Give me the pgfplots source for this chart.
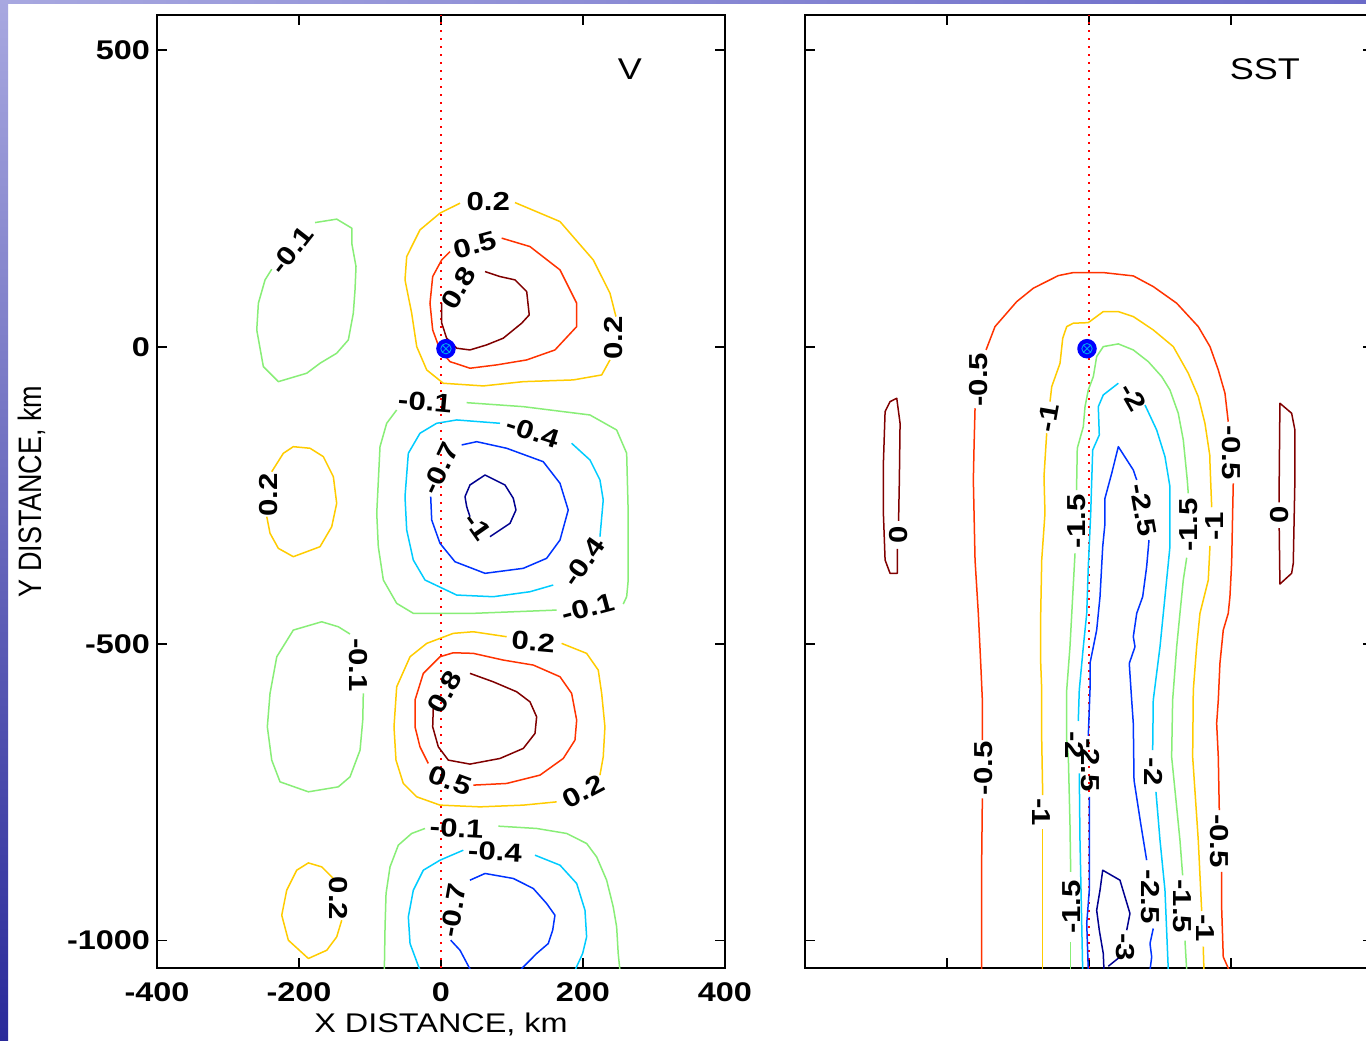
\documentclass[border=0pt]{standalone}
\usepackage{graphicx}
\usepackage{pgfplots}
\pgfplotsset{compat=1.18}
\usepackage{fontspec}
\setmainfont{Liberation Sans}[FakeStretch=1.2]
\newfontfamily\plainsans{Liberation Sans}
\usetikzlibrary{plotmarks}

% contour level colours
\definecolor{cDR}{HTML}{800000}
\definecolor{cR}{HTML}{FF3300}
\definecolor{cY}{HTML}{FFCC00}
\definecolor{cG}{HTML}{88EE77}
\definecolor{cC}{HTML}{00CCFF}
\definecolor{cB}{HTML}{0033FF}
\definecolor{cDB}{HTML}{000090}
\definecolor{slideA}{HTML}{A8A8E0}
\definecolor{slideB}{HTML}{2A2A9A}
\definecolor{slideC}{HTML}{6A6AC8}

% contour labels: slanted ones in the wide face, upright ones stretched across
\newcommand{\clab}[1]{{\bfseries\fontsize{13}{13}\selectfont #1}}
\newcommand{\vlab}[1]{\scalebox{1}[1.2]{\plainsans\bfseries\fontsize{13}{13}\selectfont #1}}

\tikzset{lab/.style={inner sep=0pt}}

\pgfplotsset{
  panel/.style={
    scale only axis, width=284pt, height=476.5pt,
    anchor=south west,
    xmin=-400, xmax=400, ymin=-1046, ymax=559,
    axis line style={line width=0.9pt},
    every tick/.style={black, line width=0.7pt},
    major tick length=5pt,
    xtick={-400,-200,0,200,400},
    ytick={-1000,-500,0,500},
    tick label style={font=\bfseries\fontsize{13.5}{14}\selectfont},
    xticklabel style={yshift=-4pt},
    label style={font=\fontsize{13.5}{14}\selectfont},
    every axis plot/.append style={line width=0.75pt, line join=round},
  },
  centreline/.style={color=red, line width=1pt, dash pattern=on 1pt off 3pt},
}

\begin{document}
\begin{tikzpicture}
\useasboundingbox (0,0) rectangle (683pt,520pt);
\clip (0,0) rectangle (683pt,520pt);
\fill[white] (0,0) rectangle (683pt,520pt);
\shade[top color=slideA, bottom color=slideB] (0,0) rectangle (4pt,520pt);
\shade[left color=slideA, right color=slideC] (0,518pt) rectangle (683pt,520pt);

% ---------------- meridional velocity ----------------
\begin{axis}[panel, at={(78.5pt,36pt)},
  xticklabels={-400,-200,0,200,400},
  yticklabels={-1000,-500,0,500},
  xlabel={X DISTANCE, km},
  ylabel={\scalebox{1}[1.2]{\plainsans Y DISTANCE, km}},
  xlabel style={at={(axis description cs:0.5,0)}, anchor=center, yshift=-28pt},
  ylabel style={at={(axis description cs:0,0.5)}, anchor=center, yshift=62.5pt},
]
\addplot[centreline] coordinates {(0,-1046) (0,559)};

% -0.1 cells
\addplot[cG] coordinates {(-177.4,209.4) (-146.9,215.2) (-125.7,200) (-125.7,174.7) (-119.7,135.3) (-121.1,96) (-123.5,56.8) (-130.5,11.8) (-146.9,-10.6) (-170.4,-27.5) (-189.1,-44.3) (-229.1,-58.5) (-250.2,-33.2) (-259.5,28.6) (-257.2,73.6) (-247.8,112.9) (-238.4,130.9)};
\addplot[cG] coordinates {(36.2,-93.9) (115.9,-100.6) (209.8,-114.6) (247.4,-139.9) (261.5,-179.1) (263.7,-280.2) (263.7,-392.6) (261.5,-420.7) (256.7,-433)};
\addplot[cG] coordinates {(162.9,-443.2) (45.5,-448.7) (-39,-448.7) (-62.4,-431.9) (-81.2,-392.6) (-88.3,-336.5) (-90.5,-280.2) (-85.9,-168) (-76.5,-128.6) (-62.4,-106.2)};
\addplot[cG] coordinates {(-109.4,-583.5) (-110.2,-628.5) (-114,-679.1) (-128.1,-724) (-144.6,-740.9) (-186.8,-749.3) (-226.7,-732.5) (-238.4,-695.9) (-244.6,-639.8) (-240.8,-583.5) (-231.3,-521.8) (-208,-476.9) (-168,-462.9) (-144.6,-471.3) (-128.1,-483.6)};
\addplot[cG] coordinates {(80.7,-807.1) (134.7,-811) (177,-819.4) (205.1,-836.3) (219.2,-858.8) (233.3,-898.1) (242.6,-943.1) (247.4,-976.8) (249.6,-1021.6) (252,-1050)};
\addplot[cG] coordinates {(-22.5,-811) (-41.3,-819.4) (-60.1,-839.1) (-71.8,-875.7) (-77.4,-920.5) (-78.8,-976.8) (-79.8,-1050)};

% 0.2
\addplot[cY] coordinates {(104.2,243.1) (167.6,211.1) (214.4,146.6) (238,90.5) (246.4,51.1)};
\addplot[cY] coordinates {(238,-21.9) (226.3,-47.2) (186.3,-55.6) (115.9,-58.5) (59.6,-65.7) (3.2,-61.2) (-20.1,-38.8) (-34.2,0.5) (-41.3,56.8) (-50.7,112.9) (-48.3,152.2) (-29.6,197.1) (-1.4,225.3) (26.8,242.1)};
\addplot[cY] coordinates {(-238.4,-210.1) (-222,-179.1) (-208,-168) (-184.4,-170.7) (-165.7,-184.8) (-151.6,-218.5) (-146.9,-263.4) (-153.9,-302.8) (-170.4,-336.5) (-208,-353.3) (-229.1,-339.2) (-240.8,-313.9) (-245.4,-285.9)};
\addplot[cY] coordinates {(169.9,-499.3) (205.1,-516.1) (221.5,-544.3) (226.3,-583.5) (230.9,-639.8) (228.5,-690.3) (223.9,-721.2)};
\addplot[cY] coordinates {(162.9,-766.2) (115.9,-771.7) (54.9,-774.6) (-1.4,-771.7) (-34.2,-757.7) (-53.1,-735.2) (-63.4,-695.9) (-66.2,-639.8) (-62.4,-572.4) (-43.6,-521.8) (-20.1,-499.3) (17.3,-482.4) (45.5,-479.7) (92.5,-488.1)};
\addplot[cY] coordinates {(-151.6,-895.2) (-168,-875.7) (-186.8,-869) (-203.2,-881.3) (-217.3,-915) (-224.3,-957.1) (-215,-999.2) (-186.8,-1030) (-160.9,-1016.1) (-146.9,-993.6) (-139.8,-965.5)};

% 0.5
\addplot[cR] coordinates {(85.5,183.2) (125.3,169) (167.6,129.7) (191.1,73.6) (191.1,34.2) (160.5,-5.1) (120.7,-21.9) (78.4,-30.3) (40.8,-35.9) (12.7,-24.8) (-1.4,-5.1) (-11.7,28.6) (-15.5,73.6) (-11.7,118.5) (1,146.6) (12.7,160.6)};
\addplot[cR] coordinates {(45.5,-738) (92.5,-735.2) (139.4,-721.2) (172.2,-693.1) (188.7,-662.2) (191.1,-628.5) (184,-583.5) (167.6,-555.5) (130,-535.8) (87.7,-527.4) (45.5,-516.1) (17.3,-515.1) (-1.4,-521.8) (-24.9,-549.8) (-36.6,-594.8) (-36.6,-639.8) (-29.6,-673.5) (-17.9,-701.5)};

% 0.8
\addplot[cDR] coordinates {(62,126.9) (83.1,118.5) (104.2,112.9) (120.7,93.2) (124.3,53.9) (113.6,39.9) (87.7,14.7) (64.3,3.4) (40.8,-5.1) (22.1,-2.2) (8,14.7) (1,39.9) (1,73.6)};
\addplot[cDR] coordinates {(40.8,-549.8) (73.6,-564) (106.6,-580.8) (125.3,-597.7) (134.7,-623) (132.4,-650.9) (115.9,-676.2) (83.1,-693.1) (40.8,-702.6) (10.3,-695.9) (-3.8,-673.5) (-11.7,-639.8) (-10.8,-606.1)};

% -0.4
\addplot[cC] coordinates {(184,-162.3) (209.8,-190.4) (223.9,-224.1) (228.5,-257.8) (223.9,-319.6)};
\addplot[cC] coordinates {(158.1,-401) (125.3,-412.3) (73.6,-420.7) (22.1,-417.9) (-22.5,-392.6) (-39,-358.9) (-48.3,-308.4) (-50.7,-252.2) (-46,-179.1) (-29.6,-145.4) (-6.1,-128.6) (22.1,-123) (83.1,-128.6)};
\addplot[cC] coordinates {(132.4,-856) (167.6,-872.8) (191.1,-903.7) (202.8,-948.7) (205.1,-993.6) (199.5,-1021.6) (188.7,-1050)};
\addplot[cC] coordinates {(31.4,-847.6) (-1.4,-864.4) (-24.9,-881.3) (-39,-915) (-46,-959.9) (-43.6,-1004.8) (-29.6,-1050)};

% -0.7
\addplot[cB] coordinates {(29.1,-165.1) (50.3,-159.6) (92.5,-170.7) (144,-193.3) (167.6,-229.7) (179.2,-274.7) (167.6,-325.2) (148.8,-356) (115.9,-372.9) (62,-381.3) (19.7,-361.8) (-1.4,-330.8) (-13.1,-291.5) (-14.5,-252.2)};
\addplot[cB] coordinates {(40.8,-898.1) (62,-886.8) (101.8,-895.2) (130,-912.1) (148.8,-937.4) (160.5,-957.1) (157.3,-982.4) (151.1,-1004.8) (134.7,-1021.6) (111.2,-1050)};
\addplot[cB] coordinates {(13.7,-999.2) (26.8,-1016.1) (41.8,-1050)};

% -1
\addplot[cDB] coordinates {(69,-319.6) (97.2,-297.1) (105.6,-274.7) (101.8,-254.9) (90.1,-232.5) (62,-215.7) (40.8,-232.5) (33.8,-252.2) (36.2,-269.1) (40.8,-285.9)};

% storm centre
\addplot[only marks, mark=*, mark size=4.5pt, mark options={fill=blue, draw=blue}] coordinates {(7,-3)};
\addplot[only marks, mark=otimes, mark size=2.6pt, mark options={draw=cyan, line width=0.4pt}] coordinates {(7,-3)};

% level labels
\node[lab, rotate=52] at (axis cs:-210,163) {\clab{-0.1}};
\node[lab] at (axis cs:66.6,244.8) {\clab{0.2}};
\node[lab] at (axis cs:242.6,14.7) {\vlab{\rotatebox{90}{0.2}}};
\node[lab, rotate=15] at (axis cs:47.9,171.9) {\clab{0.5}};
\node[lab, rotate=60] at (axis cs:24.4,98.9) {\clab{0.8}};
\node[lab, rotate=-5] at (axis cs:-22.5,-92.2) {\clab{-0.1}};
\node[lab, rotate=15] at (axis cs:207,-439.8) {\clab{-0.1}};
\node[lab, rotate=-18] at (axis cs:130,-142.7) {\clab{-0.4}};
\node[lab, rotate=55] at (axis cs:200.4,-361.8) {\clab{-0.4}};
\node[lab, rotate=65] at (axis cs:-1.4,-204.4) {\clab{-0.7}};
\node[lab, rotate=-55] at (axis cs:52.5,-302.8) {\clab{-1}};
\node[lab] at (axis cs:-243.2,-249.4) {\vlab{\rotatebox{90}{0.2}}};
\node[lab] at (axis cs:-116.4,-535.8) {\vlab{\rotatebox{-90}{-0.1}}};
\node[lab, rotate=-5] at (axis cs:130,-496.6) {\clab{0.2}};
\node[lab, rotate=28] at (axis cs:200.4,-749.3) {\clab{0.2}};
\node[lab, rotate=-20] at (axis cs:12.7,-729.6) {\clab{0.5}};
\node[lab, rotate=60] at (axis cs:5.6,-580.8) {\clab{0.8}};
\node[lab, rotate=-3] at (axis cs:22.1,-811) {\clab{-0.1}};
\node[lab, rotate=-3] at (axis cs:76,-850.4) {\clab{-0.4}};
\node[lab, rotate=80] at (axis cs:17.3,-948.7) {\clab{-0.7}};
\node[lab] at (axis cs:-144.6,-928.9) {\vlab{\rotatebox{-90}{0.2}}};

\node[font=\fontsize{15}{15}\selectfont] at (axis cs:266,467) {V};
\end{axis}

% ---------------- sea surface temperature ----------------
\begin{axis}[panel, at={(402.5pt,36pt)},
  xticklabels={}, yticklabels={},
]
\addplot[centreline] coordinates {(0,-1046) (0,559)};

% 0
\addplot[cDR] coordinates {(-269.9,-340) (-269.9,-381.3) (-280.2,-381.3) (-287.2,-358.9) (-289.6,-280.2) (-289.6,-196) (-287.2,-109) (-280.2,-92.2) (-270.8,-86.4) (-266.1,-128.6) (-267.1,-224.1) (-268.2,-293)};
\addplot[cDR] coordinates {(267.9,-305) (268.9,-399.3) (285.4,-381.3) (287.7,-364.5) (290,-224.1) (290,-139.9) (285.4,-111.7) (268.9,-94.9) (267.9,-224.1) (267.9,-262)};

% -0.5
\addplot[cR] coordinates {(-151.1,-1050) (-151.1,-858.8) (-150.2,-760.4)};
\addplot[cR] coordinates {(-150.2,-662.2) (-150.2,-594.8) (-152.5,-533) (-155.9,-448.7) (-160.5,-358.9) (-162.9,-224.1) (-161.9,-168) (-160.5,-103.3)};
\addplot[cR] coordinates {(-145,-5.1) (-132.4,34.2) (-101.8,76.3) (-78.4,98.9) (-43.2,120.1) (-22.1,125.2) (20.1,125.2) (62.4,119.6) (90.5,101.6) (123.5,73.6) (153.9,34.2) (170.4,0.5) (182.1,-38.8) (191.5,-78) (196.1,-125.9)};
\addplot[cR] coordinates {(203.2,-229.7) (202.3,-280.2) (200.9,-364.5) (198.5,-420.7) (196.1,-448.7) (189.1,-476.9) (184.4,-533) (182.1,-594.8) (179.8,-634.1) (182.1,-690.3) (183.5,-780.2)};
\addplot[cR] coordinates {(186.8,-884.1) (186.8,-943.1) (189.1,-1027.3) (197.5,-1050)};

% -1
\addplot[cY] coordinates {(-65.2,-1050) (-65.2,-858.8) (-65.2,-812)};
\addplot[cY] coordinates {(-65.2,-755) (-66.6,-662.2) (-66.6,-578) (-68,-533) (-68,-448.7) (-66.6,-358.9) (-62,-280.2) (-63.4,-218.5) (-59.6,-145.4)};
\addplot[cY] coordinates {(-54.9,-92.2) (-52.5,-66.9) (-40.8,-27.5) (-37,14.7) (-31.4,34.2) (-22.1,39.9) (-1,40.9) (20.1,59.5) (41.3,59.5) (62.4,51.1) (90.5,28.6) (118.7,0.5) (139.8,-44.3) (153.9,-83.7) (163.3,-128.6) (170.4,-184.8) (170.4,-196) (172.8,-270)};
\addplot[cY] coordinates {(170.4,-335) (168,-392.6) (156.3,-448.7) (151.6,-505) (146.9,-578) (146,-690.3) (153.9,-830.7) (158.7,-950)};
\addplot[cY] coordinates {(160.9,-1010) (161.9,-1050)};

% -1.5
\addplot[cG] coordinates {(-25.8,-1050) (-25.8,-1002)};
\addplot[cG] coordinates {(-25.8,-884.1) (-26.8,-802.6) (-29.1,-690.3) (-31.4,-662.2) (-31.4,-578) (-26.8,-505) (-23,-420.7) (-19.7,-347.6)};
\addplot[cG] coordinates {(-17.3,-241) (-17.3,-224.1) (-16.5,-170.7) (-8,-134.3) (-5.6,-100.6) (-1,-72.5) (6.1,-50) (10.8,-16.3) (20.1,0.5) (41.3,5.1) (62.4,-5.1) (83.5,-24.8) (102.4,-50) (114,-72.5) (125.7,-111.7) (132.8,-156.7) (138.4,-224.1) (139.8,-246.5)};
\addplot[cG] coordinates {(137.6,-355) (132.8,-392.6) (128.1,-448.7) (123.5,-505) (117.8,-594.8) (116.4,-690.3) (128.1,-830.7) (131.9,-890)};
\addplot[cG] coordinates {(135.2,-1000) (137.6,-1050)};

% -2
\addplot[cC] coordinates {(-8.9,-1050) (-12.7,-830.7) (-13.7,-718.3)};
\addplot[cC] coordinates {(-15.1,-630) (-13.7,-578) (-8,-505) (-3.2,-448.7) (-1,-370.2) (2.4,-280.2) (5.2,-173.6) (14.5,-148.3) (13.1,-100.6) (20.1,-80.9) (41.3,-61.2)};
\addplot[cC] coordinates {(78.8,-97.7) (95.3,-139.9) (107,-184.8) (114,-235.4) (114,-336.5) (107,-420.7) (100,-505) (90.5,-594.8) (89.7,-679.1)};
\addplot[cC] coordinates {(94.3,-749.3) (100,-830.7) (107,-915) (111.7,-1050)};

% -2.5
\addplot[cB] coordinates {(-1,-1050) (-3.2,-971.1) (0.4,-915) (0.4,-757.7)};
\addplot[cB] coordinates {(-1,-655) (1.4,-578) (1.4,-533) (10.8,-476.9) (15.5,-420.7) (19.3,-336.5) (22.5,-297.1) (22.5,-254.9) (32,-212.8) (41.3,-168) (62.4,-207.3) (67.2,-224.1)};
\addplot[cB] coordinates {(84.5,-325.2) (81.2,-370.2) (75.6,-420.7) (67.2,-448.7) (62.4,-488.1) (64.8,-505) (56.7,-533) (60.1,-594.8) (62.4,-634.1) (63.4,-729.6) (72.8,-802.6) (81.2,-864.4)};
\addplot[cB] coordinates {(90.5,-979.5) (85.9,-1004.8) (88.3,-1027.3) (85.9,-1050)};

% -3
\addplot[cDB] coordinates {(21.1,-1050) (20.1,-1021.6) (14.5,-982.4) (10.8,-948.7) (15.5,-915) (19.3,-881.3) (43.6,-898.1) (57.7,-954.2) (53.1,-982.4)};
\addplot[cDB] coordinates {(43.6,-1027.3) (27.2,-1043)};

% storm centre
\addplot[only marks, mark=*, mark size=4.5pt, mark options={fill=blue, draw=blue}] coordinates {(-2.8,-3)};
\addplot[only marks, mark=otimes, mark size=2.6pt, mark options={draw=cyan, line width=0.4pt}] coordinates {(-2.8,-3)};

% level labels
\node[lab] at (axis cs:-268.9,-316.8) {\vlab{\rotatebox{90}{0}}};
\node[lab] at (axis cs:268.9,-283.1) {\vlab{\rotatebox{90}{0}}};
\node[lab] at (axis cs:-155.9,-55) {\vlab{\rotatebox{90}{-0.5}}};
\node[lab] at (axis cs:-148.8,-709.4) {\vlab{\rotatebox{90}{-0.5}}};
\node[lab] at (axis cs:200.9,-178) {\vlab{\rotatebox{-90}{-0.5}}};
\node[lab] at (axis cs:184.4,-832) {\vlab{\rotatebox{-90}{-0.5}}};
\node[lab, rotate=80] at (axis cs:-57.7,-119.6) {\clab{-1}};
\node[lab] at (axis cs:-66.6,-783.5) {\vlab{\rotatebox{-90}{-1}}};
\node[lab] at (axis cs:177.4,-302) {\vlab{\rotatebox{90}{-1}}};
\node[lab] at (axis cs:163.3,-979) {\vlab{\rotatebox{-90}{-1}}};
\node[lab] at (axis cs:-24.4,-943.1) {\vlab{\rotatebox{90}{-1.5}}};
\node[lab] at (axis cs:-17.3,-294) {\vlab{\rotatebox{90}{-1.5}}};
\node[lab] at (axis cs:139.8,-300) {\vlab{\rotatebox{90}{-1.5}}};
\node[lab] at (axis cs:131,-942) {\vlab{\rotatebox{-90}{-1.5}}};
\node[lab, rotate=-60] at (axis cs:62.4,-83.7) {\clab{-2}};
\node[lab] at (axis cs:-19.7,-670.6) {\vlab{\rotatebox{-90}{-2}}};
\node[lab] at (axis cs:90.5,-715.6) {\vlab{\rotatebox{-90}{-2}}};
\node[lab] at (axis cs:1.4,-704.3) {\vlab{\rotatebox{-90}{-2.5}}};
\node[lab, rotate=-80] at (axis cs:76.5,-274.7) {\clab{-2.5}};
\node[lab] at (axis cs:85.9,-926.2) {\vlab{\rotatebox{-90}{-2.5}}};
\node[lab] at (axis cs:50.7,-1011) {\vlab{\rotatebox{-90}{-3}}};

\node[font=\fontsize{15}{15}\selectfont] at (axis cs:247.8,467) {SST};
\end{axis}
\end{tikzpicture}
\end{document}
